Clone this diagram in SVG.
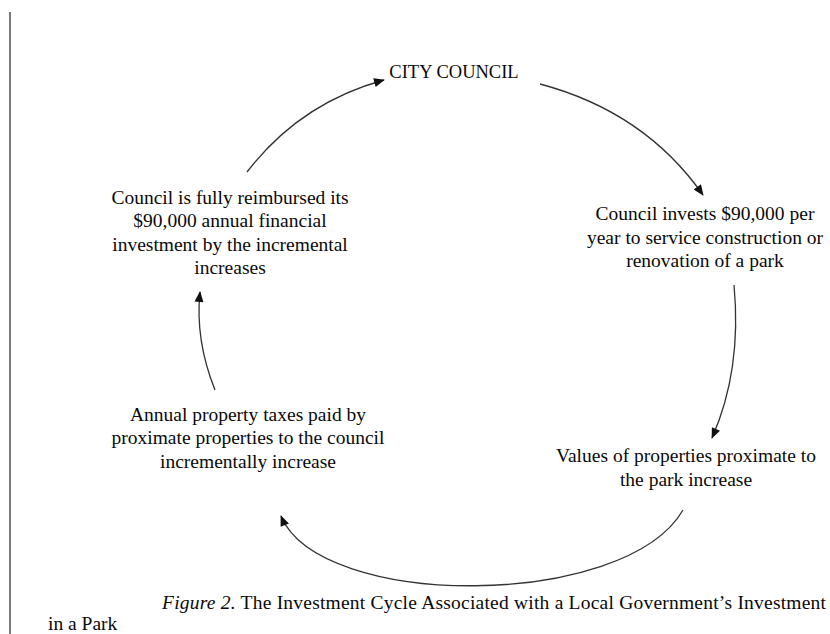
<svg xmlns="http://www.w3.org/2000/svg" width="830" height="634" viewBox="0 0 830 634">
  <style>
    .t { font-family: "Liberation Serif", "Times New Roman", serif; font-size: 19.5px; fill: #0a0a0a; text-anchor: middle; }
    .title { font-size: 18.5px; }
    .cap { font-family: "Liberation Serif", "Times New Roman", serif; font-size: 19.5px; fill: #0a0a0a; }
    .edge { fill: none; stroke: #333; stroke-width: 1.3; marker-end: url(#arrow); }
  </style>
  <defs>
    <marker id="arrow" viewBox="0 0 12 10" refX="11" refY="5" markerWidth="12" markerHeight="9" markerUnits="userSpaceOnUse" orient="auto">
      <path d="M0,0 L12,5 L0,10 z" fill="#111"/>
    </marker>
  </defs>

  <!-- page margin rule -->
  <line x1="10" y1="12" x2="10" y2="634" stroke="#222" stroke-width="1.2"/>

  <g id="city-council">
    <text class="t title" x="454" y="78">CITY COUNCIL</text>
  </g>

  <g id="council-invests">
    <text class="t" x="705" y="220">Council invests $90,000 per</text>
    <text class="t" x="705" y="244">year to service construction or</text>
    <text class="t" x="705" y="267">renovation of a park</text>
  </g>

  <g id="property-values">
    <text class="t" x="686" y="462">Values of properties proximate to</text>
    <text class="t" x="686" y="486">the park increase</text>
  </g>

  <g id="property-taxes">
    <text class="t" x="248" y="421">Annual property taxes paid by</text>
    <text class="t" x="248" y="444">proximate properties to the council</text>
    <text class="t" x="248" y="468">incrementally increase</text>
  </g>

  <g id="council-reimbursed">
    <text class="t" x="230" y="204">Council is fully reimbursed its</text>
    <text class="t" x="230" y="227">$90,000 annual financial</text>
    <text class="t" x="230" y="251">investment by the incremental</text>
    <text class="t" x="230" y="274">increases</text>
  </g>

  <g id="connectors">
    <path class="edge" d="M540,84 Q645,112 703,195"/>
    <path class="edge" d="M734,285 Q742,370 712,438"/>
    <path class="edge" d="M683,510 C625,610 320,610 281,516"/>
    <path class="edge" d="M215,390 Q195,340 200,292"/>
    <path class="edge" d="M247,172 Q300,103 384,80"/>
  </g>

  <g id="caption">
    <text class="cap" x="162" y="609" textLength="664" lengthAdjust="spacing"><tspan font-style="italic">Figure 2.</tspan>  The Investment Cycle Associated with a Local Government’s Investment</text>
    <text class="cap" x="48" y="630">in a Park</text>
  </g>
</svg>
